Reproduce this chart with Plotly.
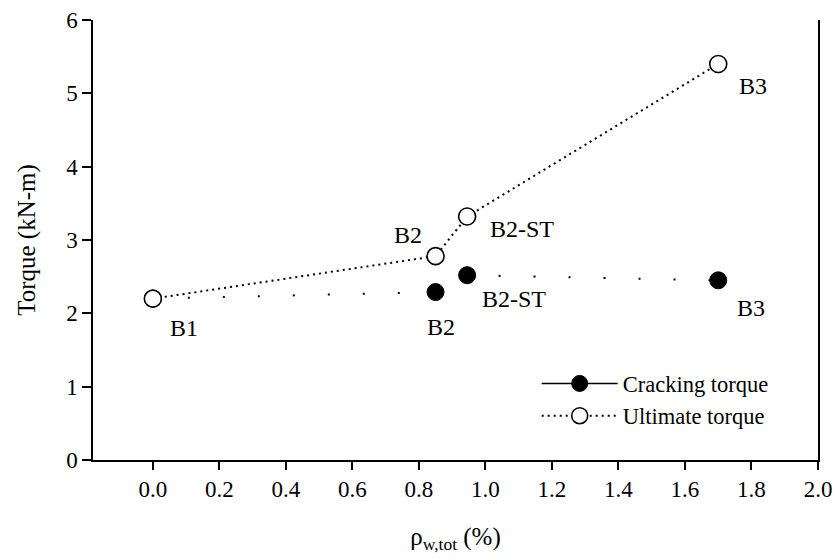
import plotly.graph_objects as go

specimens = ["B1", "B2", "B2-ST", "B3"]
rho_w_tot = [0.0, 0.85, 0.945, 1.70]
cracking_torque = [2.20, 2.29, 2.52, 2.45]
ultimate_torque = [2.20, 2.78, 3.32, 5.40]
x_ticks = [0.0, 0.2, 0.4, 0.6, 0.8, 1.0, 1.2, 1.4, 1.6, 1.8, 2.0]
y_ticks = [0, 1, 2, 3, 4, 5, 6]

FONT = "Liberation Serif"
FS_TICK = 23
FS_TITLE = 25
FS_LEG = 22.5
FS_ANN = 24

fig = go.Figure()

# Cracking torque (sparse dotted in plot)
fig.add_trace(go.Scatter(
    x=rho_w_tot, y=cracking_torque, mode="lines+markers",
    line=dict(color="black", width=2, dash="2px,33px"),
    marker=dict(symbol="circle", size=17, color="black", line=dict(color="black", width=1)),
    showlegend=False))
# Ultimate torque
fig.add_trace(go.Scatter(
    x=rho_w_tot, y=ultimate_torque, mode="lines+markers",
    line=dict(color="black", width=2, dash="2px,4px"),
    marker=dict(symbol="circle", size=17, color="white", line=dict(color="black", width=1.6)),
    showlegend=False))

# legend entries
fig.add_trace(go.Scatter(
    x=[None], y=[None], mode="lines+markers", name="Cracking torque",
    line=dict(color="black", width=1.6),
    marker=dict(symbol="circle", size=17, color="black", line=dict(color="black", width=1))))
fig.add_trace(go.Scatter(
    x=[None], y=[None], mode="lines+markers", name="Ultimate torque",
    line=dict(color="black", width=2, dash="2px,4px"),
    marker=dict(symbol="circle", size=17, color="white", line=dict(color="black", width=1.6))))

crack_offsets = [(31, -29), (5, -35), (47, -24), (33, -28)]
ult_offsets = [None, (-28, 21), (55, -12), (35, -22)]
annotations = []
for i, name in enumerate(specimens):
    dx, dy = crack_offsets[i]
    annotations.append(dict(x=rho_w_tot[i], y=cracking_torque[i], text=name, showarrow=False,
                            xshift=dx, yshift=dy, xanchor="center", yanchor="middle",
                            font=dict(family=FONT, size=FS_ANN, color="black")))
    if ult_offsets[i] is not None:
        dx, dy = ult_offsets[i]
        annotations.append(dict(x=rho_w_tot[i], y=ultimate_torque[i], text=name, showarrow=False,
                                xshift=dx, yshift=dy, xanchor="center", yanchor="middle",
                                font=dict(family=FONT, size=FS_ANN, color="black")))

fig.update_layout(
    width=837, height=559,
    margin=dict(l=93, r=19, t=20, b=99, autoexpand=False),
    paper_bgcolor="white", plot_bgcolor="white",
    font=dict(family=FONT, size=FS_TICK, color="black"),
    annotations=annotations,
    legend=dict(x=0.612, y=0.222, xanchor="left", yanchor="top",
                bgcolor="rgba(0,0,0,0)", itemwidth=76, tracegroupgap=0,
                font=dict(family=FONT, size=FS_LEG, color="black")),
    xaxis=dict(range=[-0.18, 2.0], tickvals=x_ticks, ticktext=[f"{v:.1f}" for v in x_ticks],
               automargin=False,
               showgrid=False, zeroline=False, showline=True, linecolor="black", linewidth=1.5,
               ticks="outside", ticklen=8, tickwidth=1.5, tickcolor="black",
               tickfont=dict(family=FONT, size=FS_TICK),
               title=dict(text="ρ<sub>w,tot</sub> (%)", standoff=26,
                          font=dict(family=FONT, size=FS_TITLE))),
    yaxis=dict(range=[0, 6], tickvals=y_ticks,
               automargin=False,
               showgrid=False, zeroline=False, showline=True, linecolor="black", linewidth=1.5,
               mirror=True,
               ticks="outside", ticklen=9, tickwidth=1.5, tickcolor="black",
               tickfont=dict(family=FONT, size=FS_TICK),
               title=dict(text="Torque (kN-m)", standoff=23,
                          font=dict(family=FONT, size=FS_TITLE))),
)

fig.write_html("out.html",
               config={"displayModeBar": False},
               post_script="document.body.style.margin='0';document.body.style.overflow='hidden';")
